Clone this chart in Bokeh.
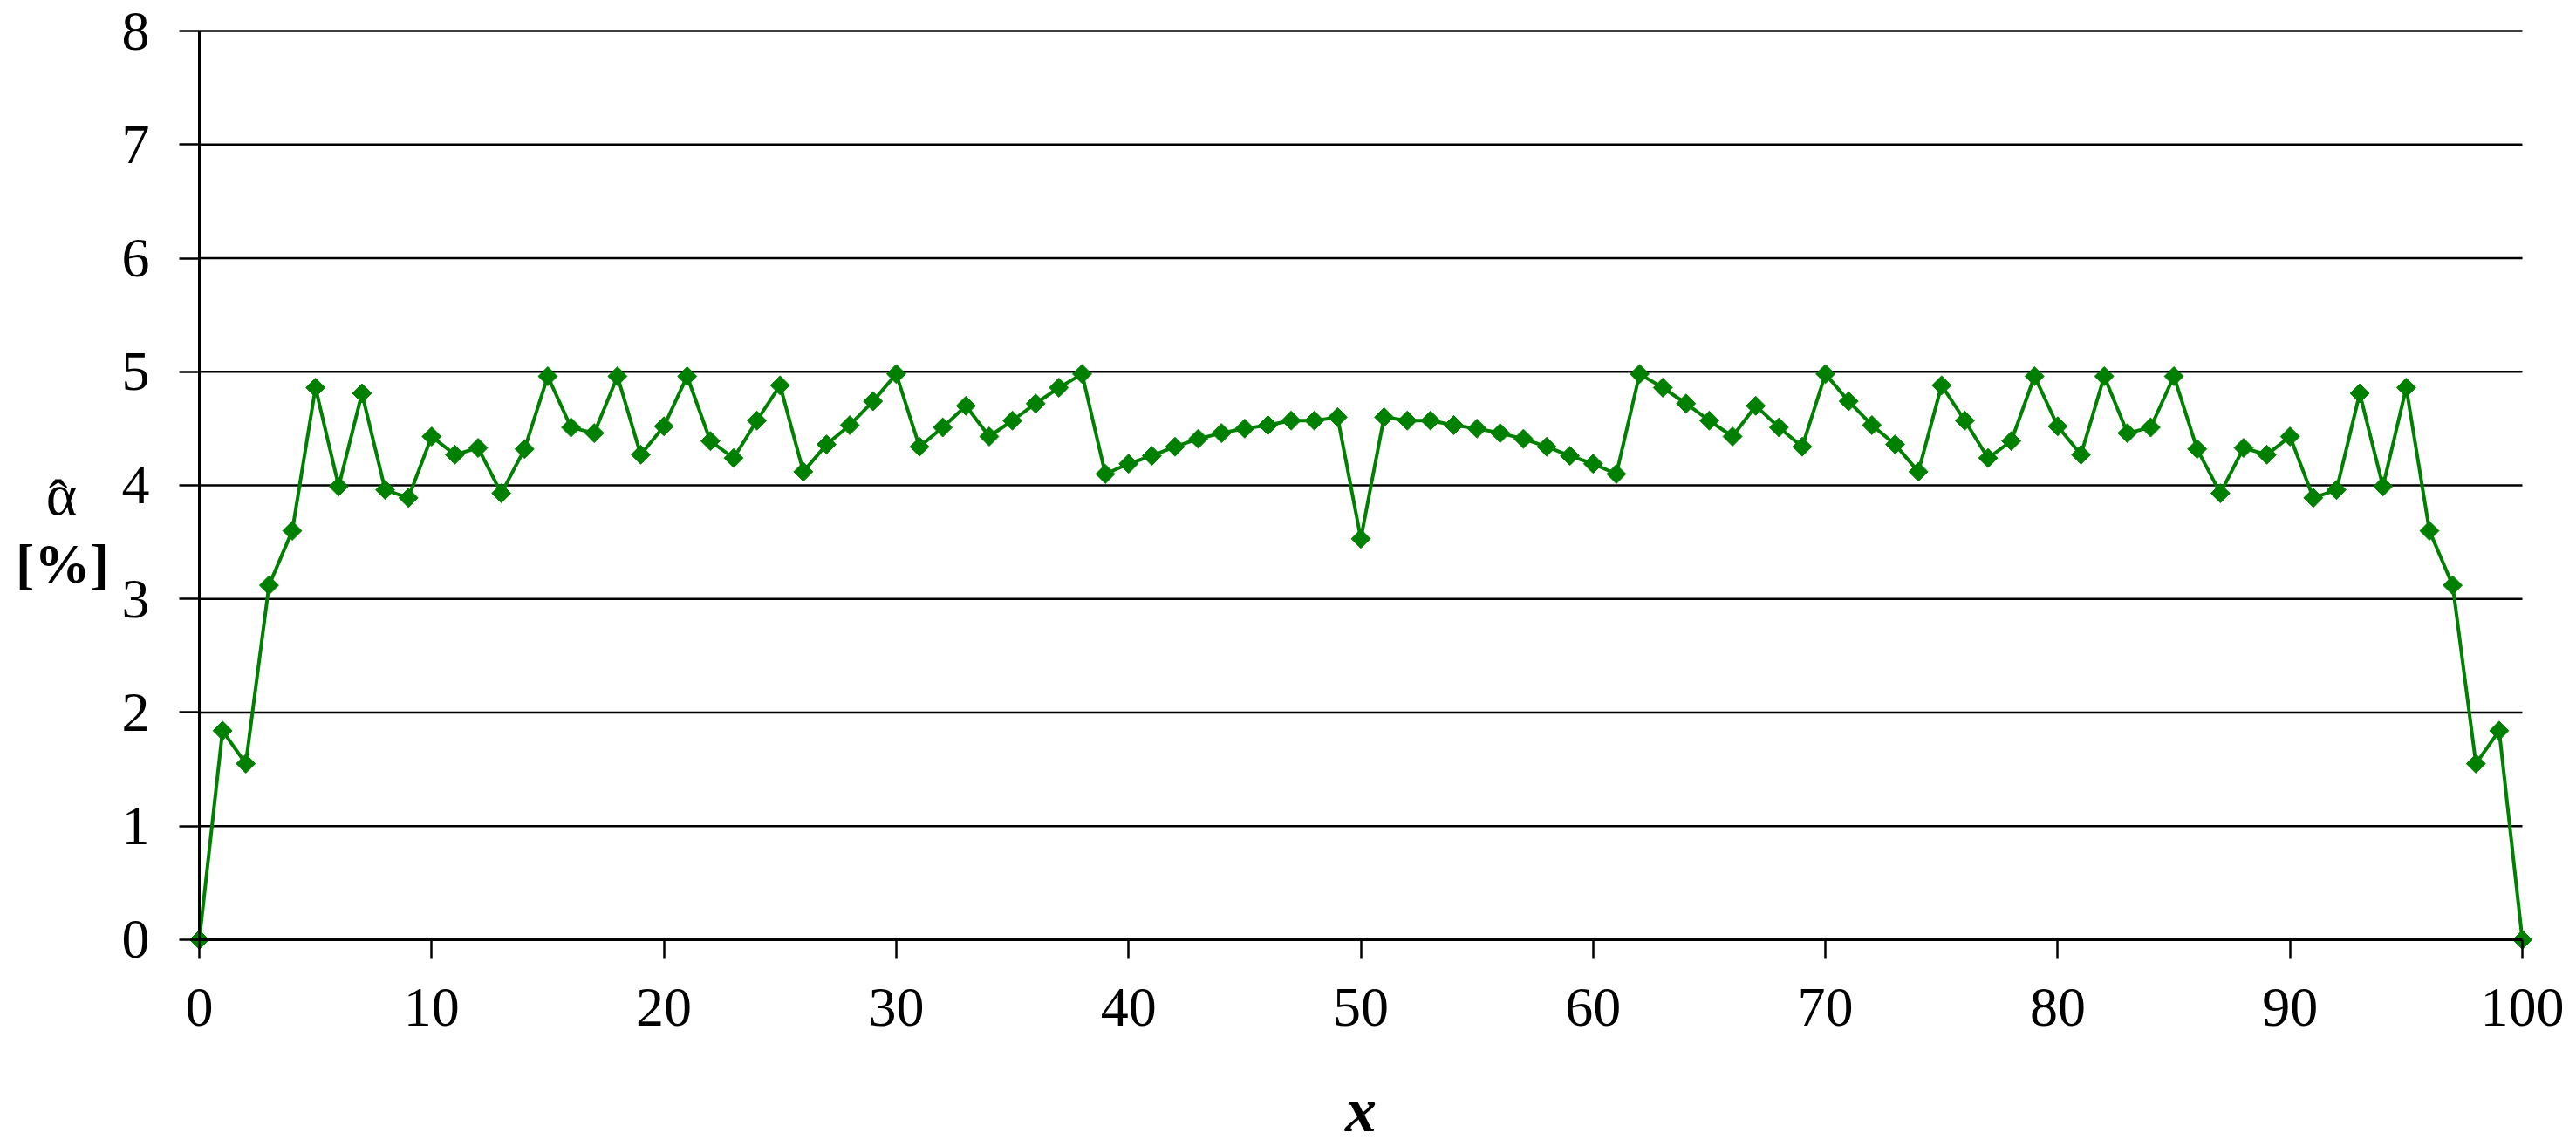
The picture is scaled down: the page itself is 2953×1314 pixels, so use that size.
import math
from bokeh.plotting import figure
from bokeh.models import Range1d, FixedTicker
from bokeh.core.properties import value
from bokeh.embed import file_html
from bokeh.resources import INLINE

# ---- data ----
x_values = list(range(0, 101))
alpha_values = [
    0.00, 1.84, 1.55, 3.12, 3.60, 4.86, 3.99, 4.81, 3.96, 3.89,
    4.43, 4.27, 4.33, 3.93, 4.32, 4.96, 4.51, 4.46, 4.96, 4.27,
    4.52, 4.96, 4.39, 4.24, 4.57, 4.88, 4.12, 4.36, 4.53, 4.74,
    4.98, 4.34, 4.51, 4.70, 4.43, 4.57, 4.72, 4.86, 4.98, 4.10,
    4.19, 4.26, 4.34, 4.41, 4.46, 4.50, 4.53, 4.57, 4.57, 4.60,
    3.53,
    4.60, 4.57, 4.57, 4.53, 4.50, 4.46, 4.41, 4.34, 4.26, 4.19,
    4.10, 4.98, 4.86, 4.72, 4.57, 4.43, 4.70, 4.51, 4.34, 4.98,
    4.74, 4.53, 4.36, 4.12, 4.88, 4.57, 4.24, 4.39, 4.96, 4.52,
    4.27, 4.96, 4.46, 4.51, 4.96, 4.32, 3.93, 4.33, 4.27, 4.43,
    3.89, 3.96, 4.81, 3.99, 4.86, 3.60, 3.12, 1.55, 1.84, 0.00,
]
x_ticks = [0, 10, 20, 30, 40, 50, 60, 70, 80, 90, 100]
y_ticks = [0, 1, 2, 3, 4, 5, 6, 7, 8]
x_label = "x"
y_label_symbol = "\u03b1"
y_label_hat = "\u02c6"
y_label_unit = "[%]"

FONT = "Liberation Serif"
GREEN = "#008000"

W, H = 2953, 1314
# frame covers whole canvas; axes are pinned at the data origin
p = figure(
    width=W, height=H,
    output_backend="svg", toolbar_location=None,
    x_range=Range1d(-8.562, 102.328), y_range=Range1d(-1.820, 8.269),
    min_border=0, min_border_left=0, min_border_right=0,
    min_border_top=0, min_border_bottom=0,
)
p.outline_line_color = None
p.background_fill_color = "white"
p.border_fill_color = "white"
p.xgrid.visible = False
p.ygrid.visible = False

# horizontal grid lines spanning the data x-extent
grid_y = [t for t in y_ticks if t != 0]
p.segment(x0=[x_ticks[0]] * len(grid_y), x1=[x_ticks[-1]] * len(grid_y),
          y0=grid_y, y1=grid_y, line_color="black", line_width=2.5)

for ax in (p.xaxis[0], p.yaxis[0]):
    ax.axis_line_color = "black"
    ax.axis_line_width = 3
    ax.major_tick_line_color = "black"
    ax.major_tick_line_width = 2.5
    ax.major_tick_in = 0
    ax.minor_tick_line_color = None
    ax.major_label_text_font = FONT
    ax.major_label_text_font_size = "64px"
    ax.major_label_text_color = "black"

p.xaxis.ticker = FixedTicker(ticks=x_ticks)
p.yaxis.ticker = FixedTicker(ticks=y_ticks)
p.xaxis.fixed_location = 0
p.yaxis.fixed_location = 0
p.xaxis.bounds = (x_ticks[0], x_ticks[-1])
p.yaxis.bounds = (y_ticks[0], y_ticks[-1])
p.xaxis.major_tick_out = 22
p.yaxis.major_tick_out = 23
p.xaxis.major_label_standoff = 35
p.yaxis.major_label_standoff = 34

p.xaxis.axis_label = x_label
p.xaxis.axis_label_text_font = FONT
p.xaxis.axis_label_text_font_style = "bold italic"
p.xaxis.axis_label_text_font_size = "72px"
p.xaxis.axis_label_standoff = 53
p.xaxis.axis_label_text_color = "black"

# series
p.line(x_values, alpha_values, line_color=GREEN, line_width=4)
p.scatter(x_values, alpha_values, marker="square", angle=math.pi / 4,
          size=15.5, fill_color=GREEN, line_color=GREEN)

# y axis label: two lines, horizontal (alpha with a hat, then bold [%])
p.text(x=[-5.93], y=[3.92], text=[y_label_symbol], text_font=value(FONT),
       text_font_size="68px", text_align="center", text_baseline="middle",
       text_color="black")
p.text(x=[-6.08], y=[3.877], text=[y_label_hat], text_font=value(FONT),
       text_font_size="64px", text_align="center", text_baseline="alphabetic",
       text_color="black")
p.text(x=[-5.9], y=[3.31], text=[y_label_unit], text_font=value(FONT),
       text_font_size="64px", text_font_style="bold", text_align="center",
       text_baseline="middle", text_color="black")

open("out.html", "w").write(file_html(p, INLINE))
